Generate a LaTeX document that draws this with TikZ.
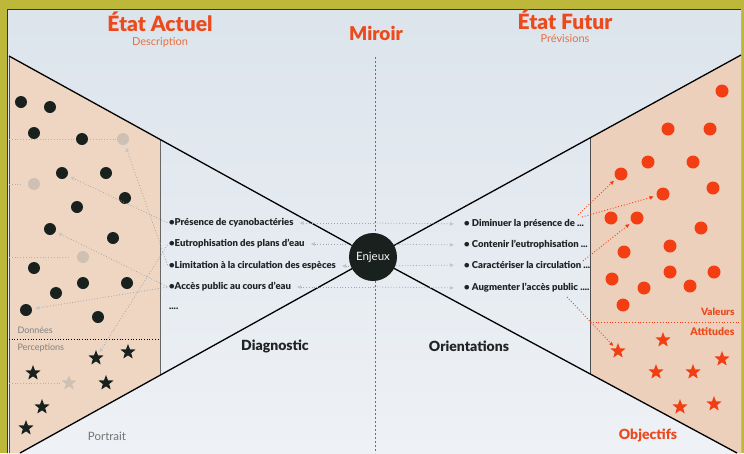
\documentclass[tikz,border=0pt]{standalone}
\usepackage{fontspec}
\setmainfont{Lato}[BoldFont={Lato Black}]
\usetikzlibrary{shapes.geometric,arrows.meta}

\definecolor{frameolive}{RGB}{190,184,58}
\definecolor{slidetop}{RGB}{220,228,236}
\definecolor{slidebot}{RGB}{238,241,245}
\definecolor{peach}{RGB}{239,214,195}
\definecolor{peachright}{RGB}{236,208,188}
\definecolor{accent}{RGB}{236,74,28}
\definecolor{accentlight}{RGB}{232,112,66}
\definecolor{dotred}{RGB}{242,62,18}
\definecolor{dotdark}{RGB}{24,33,29}
\definecolor{ghost}{RGB}{206,192,178}
\definecolor{txtdark}{RGB}{32,36,36}

\tikzset{
  blackdot/.style={circle,fill=dotdark,minimum size=12pt,inner sep=0pt},
  ghostdot/.style={circle,fill=ghost,minimum size=12pt,inner sep=0pt},
  reddot/.style={circle,fill=dotred,minimum size=13pt,inner sep=0pt},
  blackstar/.style={star,star points=5,star point ratio=2.4,fill=dotdark,minimum size=16pt,inner sep=0pt},
  ghoststar/.style={blackstar,fill=ghost},
  redstar/.style={blackstar,fill=dotred},
  greylink/.style={gray!70,dotted,line width=0.8pt,-{Triangle[length=4pt,width=3.5pt,color=gray!45]}},
  redlink/.style={dotred,dotted,line width=0.9pt,-{Triangle[length=4pt,width=3.5pt]}},
  itemL/.style={anchor=west,inner sep=1pt,font=\fontsize{9.5}{11}\selectfont\bfseries,text=txtdark},
  itemR/.style={itemL},
  edge line/.style={black,line width=1.3pt}
}

\begin{document}
\begin{tikzpicture}[x=1pt,y=-1pt]
\useasboundingbox (0,0) rectangle (744,453);
% frame and slide
\fill[frameolive] (0,0) rectangle (744,453);
\fill[top color=slidetop,bottom color=slidebot] (7,9) rectangle (741,453);
\draw[black!80,line width=0.8pt] (7,453) -- (7,9) -- (741,9);

% panels
\fill[peach] (9,56) -- (160,139.4) -- (160,374.6) -- (20,453) -- (9,453) -- cycle;
\fill[peachright] (590,138) -- (741,55) -- (741,453) -- (737,453) -- (590,374) -- cycle;
\draw[gray!80!black,line width=1pt] (160,139.4) -- (160,374.6);
\draw[black!70,line width=1pt] (9,56) -- (9,453);
\draw[black!70,line width=1pt] (590,138) -- (590,374);
\draw[black,dotted,line width=0.7pt] (9,339) -- (160,339);
\draw[dotred,dotted,line width=0.8pt] (590,322) -- (741,322);

% mirror axis
\draw[dotred,line width=1pt,dash pattern=on 2pt off 2pt] (375,57) -- (375,453);

% funnel lines
\coordinate (enjc) at (373,257);
\draw[edge line] (9,56) -- (enjc) -- (20,453);
\draw[edge line] (741,55) -- (enjc) -- (737,453);

% faint guides in the left panel
\draw[gray!60,dotted,line width=0.8pt] (9,139) -- (117,139);
\draw[gray!60,dotted,line width=0.8pt] (9,184) -- (21,184);
\draw[gray!60,dotted,line width=0.8pt] (9,257) -- (70,257);
\draw[gray!60,dotted,line width=0.8pt] (9,383) -- (60,383);

% data points, current state
\node (d1) at (21,102) [blackdot]{};
\node (d2) at (50,107) [blackdot]{};
\node (d3) at (34,133) [blackdot]{};
\node (d4) at (82,139) [blackdot]{};
\node (d5) at (62,173) [blackdot]{};
\node (d6) at (106,173) [blackdot]{};
\node (d7) at (125,198) [blackdot]{};
\node (d8) at (77,207) [blackdot]{};
\node (d9) at (50,229) [blackdot]{};
\node (d10) at (113,238) [blackdot]{};
\node (d11) at (34,268) [blackdot]{};
\node (d12) at (83,283) [blackdot]{};
\node (d13) at (127,283) [blackdot]{};
\node (d14) at (56,293) [blackdot]{};
\node (d15) at (26,310) [blackdot]{};
\node (d16) at (98,317) [blackdot]{};
\node (g1) at (123,139) [ghostdot]{};
\node (g2) at (34,184) [ghostdot]{};
\node (g3) at (83,257) [ghostdot]{};

\node (s1) at (96,358) [blackstar]{};
\node (s2) at (128,352) [blackstar]{};
\node (s3) at (33,373) [blackstar]{};
\node (s4) at (106,383) [blackstar]{};
\node (s5) at (42,407) [blackstar]{};
\node (s6) at (26,428) [blackstar]{};
\node (gs) at (69,383) [ghoststar]{};

% data points, future state
\node (p1) at (722,91) [reddot]{};
\node (p2) at (668,129) [reddot]{};
\node (p3) at (710,129) [reddot]{};
\node (p4) at (648,162) [reddot]{};
\node (p5) at (693,162) [reddot]{};
\node (p6) at (621,174) [reddot]{};
\node (p7) at (713,188) [reddot]{};
\node (p8) at (663,194) [reddot]{};
\node (p9) at (611,218) [reddot]{};
\node (p10) at (637,218) [reddot]{};
\node (p11) at (701,228) [reddot]{};
\node (p12) at (670,246) [reddot]{};
\node (p13) at (624,252) [reddot]{};
\node (p14) at (670,272) [reddot]{};
\node (p15) at (714,272) [reddot]{};
\node (p16) at (612,279) [reddot]{};
\node (p17) at (690,286) [reddot]{};
\node (p18) at (644,288) [reddot]{};
\node (p19) at (623,305) [reddot]{};

\node (q1) at (618,351) [redstar]{};
\node (q2) at (663,340) [redstar]{};
\node (q3) at (656,372) [redstar]{};
\node (q4) at (693,372) [redstar]{};
\node (q5) at (722,359) [redstar]{};
\node (q6) at (680,407) [redstar]{};
\node (q7) at (714,404) [redstar]{};

% issues
\node (L1) at (168,223) [itemL]{\textbullet Présence de cyanobactéries};
\node (L2) at (168,244) [itemL]{\textbullet Eutrophisation des plans d’eau};
\node (L3) at (168,266) [itemL]{\textbullet Limitation à la circulation des espèces};
\node (L4) at (168,287) [itemL]{\textbullet Accès public au cours d’eau};
\node (L5) at (168,309) [itemL]{....};
\node (R1) at (463,224) [itemR]{\textbullet\ Diminuer la présence de ...};
\node (R2) at (463,245) [itemR]{\textbullet\ Contenir l’eutrophisation ...};
\node (R3) at (463,265) [itemR]{\textbullet\ Caractériser la circulation ...};
\node (R4) at (463,288) [itemR]{\textbullet\ Augmenter l’accès public ....};

\coordinate (m1) at (374,223);
\coordinate (m2) at (374,244);
\coordinate (m3) at (374,266);
\coordinate (m4) at (374,287);
\foreach \k in {1,...,4}{
  \draw[greylink,shorten >=5pt] (m\k) -- (L\k.east);
  \draw[greylink,shorten >=9pt] (m\k) -- (R\k.west);
}

% links to the points
\draw[greylink,shorten <=1pt,shorten >=3pt] (L1.west) -- (d5);
\draw[greylink,shorten <=1pt,shorten >=3pt] (L2.west) -- (s1);
\draw[greylink,shorten <=1pt,shorten >=3pt] (L3.west) -- (g1);
\draw[greylink,shorten <=1pt,shorten >=3pt] (L4.west) -- (d15);
\draw[greylink,shorten <=1pt,shorten >=3pt] (L4.west) -- (d9);

\coordinate (c1) at (578,215);
\coordinate (c2) at (582,217);
\coordinate (c3) at (583,261);
\coordinate (c4) at (567,297);
\draw[redlink,shorten >=3pt] (c1) -- (p6);
\draw[redlink,shorten >=3pt] (c2) -- (p8);
\draw[redlink,shorten >=3pt] (c3) -- (p10);
\draw[redlink,shorten >=3pt] (c4) -- (q1);

\node (enj) at (enjc) [circle,fill=dotdark,minimum size=48pt,inner sep=0pt,text=white!92!gray,font=\fontsize{11.5}{13}\selectfont]{Enjeux};

% headings
\node (now) at (160,22) [text=accent,font=\fontsize{21}{24}\selectfont\bfseries]{État Actuel};
\node (nowsub) at (160,42) [text=accentlight,font=\fontsize{11}{13}\selectfont]{Description};
\node (mirror) at (376,33) [text=accent,font=\fontsize{19}{22}\selectfont\bfseries]{Miroir};
\node (later) at (565,20) [text=accent,font=\fontsize{21}{24}\selectfont\bfseries]{État Futur};
\node (latersub) at (565,39) [text=accentlight,font=\fontsize{11}{13}\selectfont]{Prévisions};

\node (diag) at (275,346) [text=txtdark,font=\fontsize{14}{16}\selectfont\bfseries]{Diagnostic};
\node (orient) at (469,346) [text=txtdark,font=\fontsize{14}{16}\selectfont\bfseries]{Orientations};
\node (portrait) at (107,436) [text=gray!90!black,font=\fontsize{11.5}{13}\selectfont]{Portrait};
\node (goals) at (648,435) [text=accent,font=\fontsize{14}{16}\selectfont\bfseries]{Objectifs};
\node (data) at (14,330) [anchor=west,text=gray,font=\fontsize{9}{10}\selectfont]{Données};
\node (percep) at (14,348) [anchor=west,text=gray,font=\fontsize{9}{10}\selectfont]{Perceptions};
\node (values) at (738,312) [anchor=east,text=accent,font=\fontsize{10}{12}\selectfont\bfseries]{Valeurs};
\node (attit) at (738,332) [anchor=east,text=accent,font=\fontsize{10.5}{12}\selectfont\bfseries]{Attitudes};
\end{tikzpicture}
\end{document}
